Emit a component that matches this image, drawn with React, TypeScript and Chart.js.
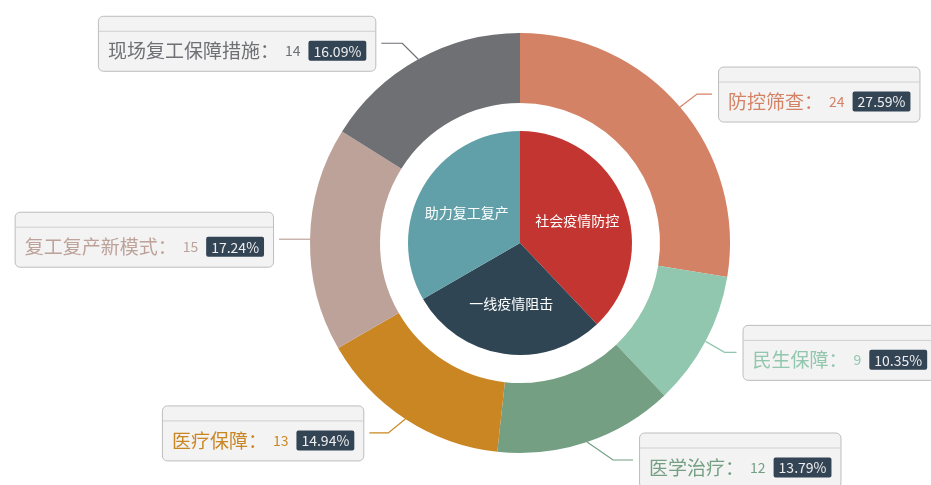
import React, { useEffect, useRef } from 'react';
import { Chart, registerables } from 'chart.js';

Chart.register(...registerables);

// ---- data ----
const outerNames = ['防控筛查', '民生保障', '医学治疗', '医疗保障', '复工复产新模式', '现场复工保障措施'];
const outerValues = [24, 9, 12, 13, 15, 14];
const innerNames = ['社会疫情防控', '一线疫情阻击', '助力复工复产'];
const innerValues = [33, 25, 29];

// ---- styles ----
const outerColors = ['#d48265', '#91c7ae', '#749f83', '#ca8622', '#bda29a', '#6e7074'];
const innerColors = ['#c23531', '#2f4554', '#61a0a8'];

// label-line elbow offsets (from the slice edge) and horizontal segment lengths
const elbowOffsets: [number, number][] = [[17, -13], [19, 11], [26, 18], [-17, 14], [-10, 0], [-16, -16]];
const horizLens = [15, 12, 20, 19, 21, 21];

const FONT = '"Noto Sans CJK SC", "Microsoft YaHei", sans-serif';

// largest remainder percentages (2 decimals)
function percents(values: number[]): string[] {
  const sum = values.reduce((a, b) => a + b, 0);
  const target = 10000;
  const raw = values.map((v) => (v / sum) * target);
  const seats = raw.map((r) => Math.floor(r));
  let left = target - seats.reduce((a, b) => a + b, 0);
  const rem = raw.map((r, i) => ({ i, r: r - Math.floor(r) })).sort((a, b) => b.r - a.r);
  for (let k = 0; k < rem.length && left > 0; k++, left--) seats[rem[k].i] += 1;
  return seats.map((s) => (s / 100).toFixed(2));
}

function roundRect(ctx: CanvasRenderingContext2D, x: number, y: number, w: number, h: number, r: number) {
  ctx.beginPath();
  ctx.moveTo(x + r, y);
  ctx.lineTo(x + w - r, y);
  ctx.arcTo(x + w, y, x + w, y + r, r);
  ctx.lineTo(x + w, y + h - r);
  ctx.arcTo(x + w, y + h, x + w - r, y + h, r);
  ctx.lineTo(x + r, y + h);
  ctx.arcTo(x, y + h, x, y + h - r, r);
  ctx.lineTo(x, y + r);
  ctx.arcTo(x, y, x + r, y, r);
  ctx.closePath();
}

const labelPlugin = {
  id: 'nestedLabels',
  afterDatasetsDraw(chart: any) {
    const ctx: CanvasRenderingContext2D = chart.ctx;
    const pct = percents(outerValues);
    // outer labels
    const outerMeta = chart.getDatasetMeta(0);
    outerMeta.data.forEach((arc: any, i: number) => {
      const p = arc.getProps(['x', 'y', 'startAngle', 'endAngle', 'outerRadius'], true);
      const a = (p.startAngle + p.endAngle) / 2;
      const p0x = p.x + Math.cos(a) * p.outerRadius;
      const p0y = p.y + Math.sin(a) * p.outerRadius;
      const right = Math.cos(a) >= 0;
      const ex = p0x + elbowOffsets[i][0];
      const ey = p0y + elbowOffsets[i][1];
      const endX = ex + (right ? 1 : -1) * horizLens[i];
      const color = outerColors[i];
      ctx.save();
      ctx.strokeStyle = color;
      ctx.lineWidth = 1.2;
      ctx.beginPath();
      ctx.moveTo(p0x, p0y);
      ctx.lineTo(ex, ey);
      ctx.lineTo(endX, ey);
      ctx.stroke();

      // box content sizes
      const nameText = outerNames[i] + '：';
      const valText = String(outerValues[i]);
      const perText = pct[i] + '%';
      ctx.font = `19px ${FONT}`;
      const nameW = ctx.measureText(nameText).width;
      ctx.font = `14px ${FONT}`;
      const valW = ctx.measureText(valText).width;
      const perW = ctx.measureText(perText).width;
      const badgeW = perW + 10;
      const padL = 10;
      const w = padL + nameW + 6 + valW + 8 + badgeW + 9;
      const h = 55;
      const gap = 6;
      const bx = right ? endX + gap : endX - gap - w;
      const by = ey - h / 2;

      roundRect(ctx, bx + 0.5, by + 0.5, w, h, 5);
      ctx.fillStyle = '#f3f3f3';
      ctx.fill();
      ctx.strokeStyle = '#bdbdbd';
      ctx.lineWidth = 1;
      ctx.stroke();
      // header separator
      ctx.beginPath();
      ctx.moveTo(bx + 1, by + 15.5);
      ctx.lineTo(bx + w, by + 15.5);
      ctx.strokeStyle = '#cfcfcf';
      ctx.stroke();

      const cy = by + 15 + 20;
      ctx.textBaseline = 'middle';
      ctx.textAlign = 'left';
      ctx.fillStyle = color;
      ctx.font = `19px ${FONT}`;
      let x = bx + padL;
      ctx.fillText(nameText, x, cy);
      x += nameW + 6;
      ctx.font = `14px ${FONT}`;
      ctx.fillText(valText, x, cy);
      x += valW + 8;
      roundRect(ctx, x, cy - 10, badgeW, 20, 2);
      ctx.fillStyle = '#334455';
      ctx.fill();
      ctx.fillStyle = '#eeeeee';
      ctx.fillText(perText, x + 5, cy + 0.5);
      ctx.restore();
    });

    // inner labels
    const innerMeta = chart.getDatasetMeta(2);
    innerMeta.data.forEach((arc: any, i: number) => {
      const p = arc.getProps(['x', 'y', 'startAngle', 'endAngle', 'outerRadius'], true);
      const a = (p.startAngle + p.endAngle) / 2;
      const r = p.outerRadius * 0.55;
      ctx.save();
      ctx.font = `14px ${FONT}`;
      ctx.fillStyle = '#ffffff';
      ctx.textAlign = 'center';
      ctx.textBaseline = 'middle';
      ctx.fillText(innerNames[i], p.x + Math.cos(a) * r, p.y + Math.sin(a) * r);
      ctx.restore();
    });
  },
};

export default function App() {
  const ref = useRef<HTMLCanvasElement | null>(null);
  useEffect(() => {
    if (!ref.current) return;
    const chart = new Chart(ref.current, {
      type: 'doughnut',
      data: {
        labels: outerNames,
        datasets: [
          {
            data: outerValues,
            backgroundColor: outerColors,
            borderWidth: 0,
            weight: 70,
          } as any,
          {
            data: [1],
            backgroundColor: ['rgba(0,0,0,0)'],
            borderWidth: 0,
            weight: 28,
          } as any,
          {
            data: innerValues,
            backgroundColor: innerColors,
            borderWidth: 0,
            weight: 112,
          } as any,
        ],
      },
      options: {
        responsive: false,
        animation: false,
        cutout: 0,
        hoverOffset: 0,
        events: [],
        layout: { padding: { left: 310, right: 201, top: 33, bottom: 32 } },
        plugins: { legend: { display: false }, tooltip: { enabled: false } },
      } as any,
      plugins: [labelPlugin],
    });
    return () => chart.destroy();
  }, []);
  return (
    <canvas
      ref={ref}
      width={931}
      height={485}
      style={{ position: 'absolute', left: 0, top: 0, display: 'block', background: '#ffffff' }}
    />
  );
}
